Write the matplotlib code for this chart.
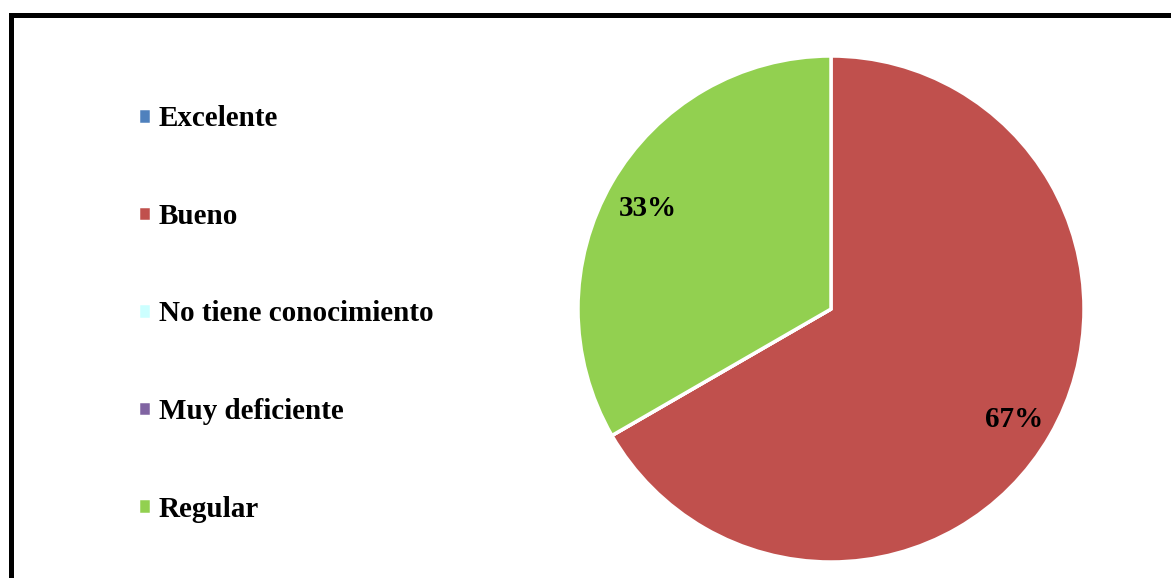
import matplotlib.pyplot as plt
from matplotlib.patches import Rectangle

categorias = ['Excelente', 'Bueno', 'No tiene conocimiento', 'Muy deficiente', 'Regular']
respuestas = [0, 2, 0, 0, 1]
colores = ['#4F81BD', '#C0504D', '#CCFFFF', '#8064A2', '#92D050']

plt.rcParams['font.family'] = ['Liberation Serif', 'DejaVu Serif']
plt.rcParams['font.weight'] = 'bold'

W, H = 1171, 578
fig = plt.figure(figsize=(W / 100, H / 100), dpi=100)

# marco negro del grafico
fig.patches.append(Rectangle((10.5 / W, -0.1), 1.2, 1.1 - 14.5 / H,
                             transform=fig.transFigure, fill=False,
                             edgecolor='black', linewidth=3.6))

ax = fig.add_axes([578 / W, (H - 562) / H, 506 / W, 506 / H])
wedges, texts, autotexts = ax.pie(
    respuestas, colors=colores, startangle=90, counterclock=False,
    autopct=lambda p: '%d%%' % round(p) if p > 0 else '',
    pctdistance=0.835, radius=1,
    wedgeprops=dict(edgecolor='white', linewidth=2.5),
    textprops=dict(fontsize=21, fontweight='bold', color='black'))
# bajar un poco las etiquetas de porcentaje
for t in autotexts:
    x, y = t.get_position()
    t.set_position((x, y - 0.02))
ax.set_xlim(-1, 1)
ax.set_ylim(-1, 1)
ax.set_aspect('equal')

fig.legend(wedges, categorias, loc='upper left',
           bbox_to_anchor=(112 / W, 1 - 79 / H), frameon=False,
           fontsize=21, handlelength=0.45, handleheight=0.45,
           handletextpad=0.26, labelspacing=2.42)

fig.savefig('out.png', dpi=100)
